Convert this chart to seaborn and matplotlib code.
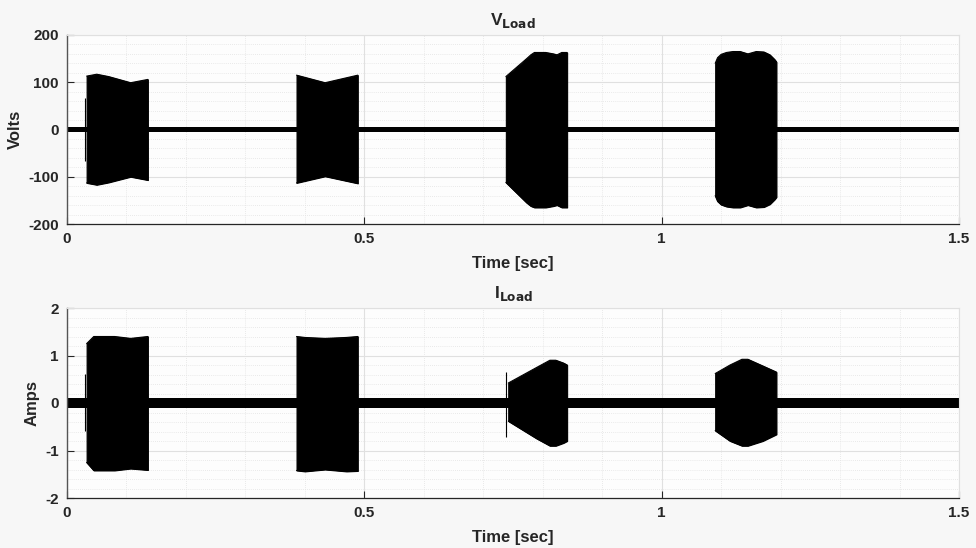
import numpy as np
import pandas as pd
import matplotlib
matplotlib.use('Agg')
import matplotlib.pyplot as plt
from matplotlib.ticker import MultipleLocator
import seaborn as sns

# Envelope breakpoints (time in sec, amplitude)
# Load voltage bursts
v_t = [[0.030, 0.0305], [0.033, 0.050, 0.070, 0.107, 0.136],
       [0.386, 0.434, 0.489],
       [0.738, 0.773, 0.780, 0.786, 0.805, 0.818, 0.824, 0.832, 0.841],
       [1.090, 1.094, 1.100, 1.109, 1.120, 1.132, 1.145, 1.159, 1.172, 1.182, 1.190, 1.193]]
v_hi = [[66, 66], [113, 117, 112, 99, 106],
        [115, 99, 115],
        [112, 150, 158, 163, 163, 160, 158, 163, 163],
        [140, 152, 159, 163, 165, 165, 160, 165, 164, 158, 148, 143]]
v_lo = [[-66, -66], [-113, -117, -112, -100, -107],
        [-113, -99, -114],
        [-112, -155, -162, -165, -165, -162, -160, -165, -165],
        [-140, -152, -159, -163, -165, -165, -160, -165, -164, -158, -148, -143]]
v_noise = 6

# Load current bursts
i_t = [[0.030, 0.0305], [0.033, 0.045, 0.080, 0.107, 0.136],
       [0.386, 0.400, 0.434, 0.470, 0.489], [0.738, 0.7385],
       [0.742, 0.790, 0.812, 0.822, 0.835, 0.841],
       [1.090, 1.115, 1.135, 1.145, 1.170, 1.193]]
i_hi = [[0.6, 0.6], [1.25, 1.40, 1.40, 1.36, 1.40],
        [1.40, 1.38, 1.36, 1.38, 1.40], [0.66, 0.66],
        [0.42, 0.75, 0.90, 0.90, 0.84, 0.80],
        [0.62, 0.80, 0.92, 0.92, 0.78, 0.65]]
i_lo = [[-0.6, -0.6], [-1.25, -1.42, -1.42, -1.38, -1.41],
        [-1.42, -1.44, -1.40, -1.44, -1.43], [-0.72, -0.72],
        [-0.38, -0.75, -0.90, -0.90, -0.84, -0.80],
        [-0.58, -0.80, -0.90, -0.90, -0.80, -0.66]]
i_noise = 0.1

t_range = [0, 1.5]

sns.set_theme(style='white')
plt.rcParams['font.family'] = ['Liberation Sans', 'DejaVu Sans']
plt.rcParams['font.weight'] = 'bold'
plt.rcParams['axes.unicode_minus'] = False

fig = plt.figure(figsize=(9.76, 5.48), dpi=100, facecolor='#f7f7f7')
ax1 = fig.add_axes([67 / 976, 1 - 224 / 548, 892 / 976, 189 / 548])
ax2 = fig.add_axes([67 / 976, 1 - 498 / 548, 892 / 976, 190 / 548])


def draw_panel(ax, ts, his, los, noise, ylim, ymaj, ymin, ylabel, title):
    ax.set_facecolor('#fdfdfd')
    # flat noisy baseline
    ax.fill_between(t_range, [-noise, -noise], [noise, noise], color='black', lw=0)
    for t, hi, lo in zip(ts, his, los):
        df = pd.DataFrame({'t': t, 'hi': hi, 'lo': lo})
        ax.fill_between(df['t'], df['lo'], df['hi'], color='black', lw=0.8, edgecolor='black')
        sns.lineplot(data=df, x='t', y='hi', ax=ax, color='black', lw=0.8)
        sns.lineplot(data=df, x='t', y='lo', ax=ax, color='black', lw=0.8)
    ax.set_xlim(t_range)
    ax.set_ylim(ylim)
    ax.xaxis.set_minor_locator(MultipleLocator(0.1))
    ax.yaxis.set_major_locator(MultipleLocator(ymaj))
    ax.yaxis.set_minor_locator(MultipleLocator(ymin))
    ax.set_xticks([0, 0.5, 1, 1.5])
    ax.set_xticklabels(['0', '0.5', '1', '1.5'])
    ax.grid(which='major', color='#e0e0e0', lw=0.8, ls='-')
    ax.grid(which='minor', color='#e3e3e3', lw=0.6, ls=(0, (1, 1.5)))
    ax.set_axisbelow(True)
    ax.tick_params(which='major', direction='in', length=5, width=0.8, color='#262626',
                   labelsize=11, pad=6, bottom=True, left=True)
    ax.tick_params(which='minor', length=0)
    for side in ['top', 'right']:
        ax.spines[side].set_color('#e0e0e0')
        ax.spines[side].set_linewidth(0.8)
    ax.spines['bottom'].set_color('#262626')
    ax.spines['left'].set_color('#555555')
    ax.spines['bottom'].set_linewidth(0.9)
    ax.spines['left'].set_linewidth(1.0)
    ax.set_xlabel('Time [sec]', fontsize=12, fontweight='bold', labelpad=7)
    ax.set_ylabel(ylabel, fontsize=12, fontweight='bold', labelpad=4)
    ax.set_title(title, fontsize=12.5, fontweight='bold', pad=7)


draw_panel(ax1, v_t, v_hi, v_lo, v_noise, (-200, 200), 100, 20, 'Volts',
           r'V$_{\mathbf{Load}}$')
draw_panel(ax2, i_t, i_hi, i_lo, i_noise, (-2, 2), 1, 0.2, 'Amps',
           r'I$_{\mathbf{Load}}$')

fig.savefig('out.png', dpi=100, facecolor=fig.get_facecolor())
